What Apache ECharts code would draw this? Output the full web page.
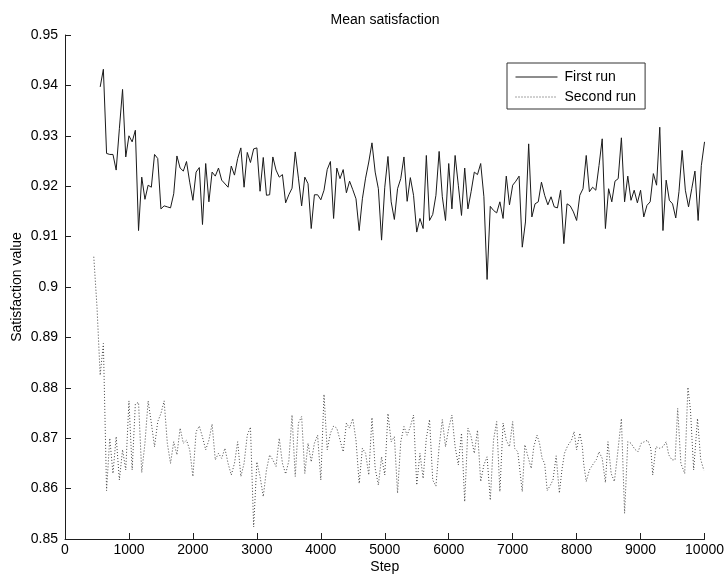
<!DOCTYPE html>
<html>
<head>
<meta charset="utf-8">
<title>Mean satisfaction</title>
<script src="https://cdn.jsdelivr.net/npm/echarts@6/dist/echarts.min.js"></script>
<style>
  html, body { margin: 0; padding: 0; background: #fff; }
  #chart { width: 727px; height: 580px; }
</style>
</head>
<body>
<div id="chart"></div>
<script>
// Mean satisfaction per simulation step, two runs
const firstSteps = [
  550, 600, 650, 700, 750, 800, 850, 900, 950, 1000, 1050, 1100, 1150, 1200, 1250, 1300, 1350, 1400, 1450, 1500,
  1550, 1600, 1650, 1700, 1750, 1800, 1850, 1900, 1950, 2000, 2050, 2100, 2150, 2200, 2250, 2300, 2350, 2400, 2450, 2550,
  2600, 2650, 2700, 2750, 2800, 2850, 2900, 2950, 3000, 3050, 3100, 3150, 3200, 3250, 3300, 3350, 3400, 3450, 3500, 3550,
  3600, 3650, 3700, 3750, 3800, 3850, 3900, 3950, 4000, 4050, 4100, 4150, 4200, 4250, 4300, 4350, 4400, 4450, 4500, 4550,
  4600, 4650, 4700, 4750, 4800, 4850, 4900, 4950, 5000, 5050, 5100, 5150, 5200, 5250, 5300, 5350, 5400, 5450, 5500, 5550,
  5600, 5650, 5700, 5750, 5800, 5850, 5900, 5950, 6000, 6050, 6100, 6150, 6200, 6250, 6300, 6350, 6400, 6450, 6500, 6550,
  6600, 6650, 6700, 6750, 6800, 6850, 6900, 6950, 7000, 7050, 7100, 7150, 7200, 7250, 7300, 7350, 7400, 7450, 7500, 7550,
  7600, 7650, 7700, 7750, 7800, 7850, 7900, 7950, 8000, 8050, 8100, 8150, 8200, 8250, 8300, 8350, 8400, 8450, 8500, 8550,
  8600, 8650, 8700, 8750, 8800, 8850, 8900, 8950, 9000, 9050, 9100, 9150, 9200, 9250, 9300, 9350, 9400, 9450, 9500, 9550,
  9600, 9650, 9700, 9750, 9800, 9850, 9900, 9950, 10000
];
const firstValues = [
  0.9397, 0.9432, 0.9265, 0.9263, 0.9263, 0.9232, 0.9314, 0.9392, 0.9258, 0.9300, 0.9288, 0.9311, 0.9112, 0.9218, 0.9174, 0.9202, 0.9198, 0.9263, 0.9255, 0.9155,
  0.9161, 0.9159, 0.9157, 0.9185, 0.9260, 0.9236, 0.9230, 0.9249, 0.9208, 0.9172, 0.9228, 0.9237, 0.9124, 0.9245, 0.9169, 0.9228, 0.9220, 0.9236, 0.9212, 0.9198,
  0.9240, 0.9222, 0.9255, 0.9276, 0.9198, 0.9267, 0.9247, 0.9274, 0.9276, 0.9190, 0.9257, 0.9182, 0.9183, 0.9258, 0.9232, 0.9218, 0.9223, 0.9167, 0.9183, 0.9196,
  0.9268, 0.9216, 0.9161, 0.9218, 0.9205, 0.9116, 0.9183, 0.9183, 0.9173, 0.9192, 0.9233, 0.9249, 0.9136, 0.9236, 0.9215, 0.9233, 0.9187, 0.9210, 0.9193, 0.9175,
  0.9112, 0.9175, 0.9216, 0.9248, 0.9286, 0.9228, 0.9195, 0.9093, 0.9198, 0.9259, 0.9169, 0.9134, 0.9195, 0.9215, 0.9258, 0.9170, 0.9217, 0.9182, 0.9109, 0.9136,
  0.9116, 0.9261, 0.9132, 0.9144, 0.9182, 0.9269, 0.9179, 0.9132, 0.9245, 0.9155, 0.9261, 0.9202, 0.9142, 0.9236, 0.9155, 0.9189, 0.9228, 0.9223, 0.9245, 0.9179,
  0.9015, 0.9160, 0.9152, 0.9147, 0.9169, 0.9136, 0.9220, 0.9163, 0.9202, 0.9210, 0.9220, 0.9079, 0.9129, 0.9284, 0.9139, 0.9165, 0.9169, 0.9208, 0.9182, 0.9163,
  0.9179, 0.9159, 0.9157, 0.9192, 0.9086, 0.9165, 0.9161, 0.9149, 0.9132, 0.9182, 0.9195, 0.9261, 0.9189, 0.9198, 0.9192, 0.9241, 0.9294, 0.9116, 0.9195, 0.9169,
  0.9210, 0.9215, 0.9296, 0.9169, 0.9220, 0.9172, 0.9192, 0.9167, 0.9192, 0.9139, 0.9162, 0.9169, 0.9225, 0.9202, 0.9317, 0.9112, 0.9212, 0.9172, 0.9165, 0.9137,
  0.9189, 0.9271, 0.9192, 0.9159, 0.9195, 0.9230, 0.9132, 0.9241, 0.9288
];

const secondSteps = [
  450, 500, 550, 600, 650, 700, 750, 800, 850, 900, 950, 1000, 1050, 1100, 1150, 1200, 1250, 1300, 1350, 1400,
  1450, 1500, 1550, 1600, 1650, 1700, 1750, 1800, 1850, 1900, 1950, 2000, 2050, 2100, 2150, 2200, 2250, 2300, 2350, 2400,
  2450, 2500, 2550, 2600, 2650, 2700, 2750, 2800, 2850, 2900, 2950, 3000, 3050, 3100, 3150, 3200, 3250, 3300, 3350, 3400,
  3450, 3500, 3550, 3600, 3650, 3700, 3750, 3800, 3850, 3900, 3950, 4000, 4050, 4100, 4150, 4200, 4250, 4350, 4400, 4450,
  4500, 4550, 4600, 4650, 4700, 4750, 4800, 4850, 4900, 4950, 5000, 5050, 5100, 5150, 5200, 5250, 5300, 5350, 5400, 5450,
  5500, 5550, 5600, 5650, 5700, 5750, 5800, 5850, 5900, 5950, 6000, 6050, 6100, 6150, 6200, 6250, 6300, 6350, 6400, 6450,
  6500, 6550, 6600, 6650, 6700, 6750, 6800, 6850, 6900, 6950, 7000, 7030, 7080, 7150, 7190, 7240, 7290, 7330, 7380, 7420,
  7460, 7500, 7540, 7590, 7630, 7680, 7730, 7770, 7810, 7860, 7920, 7960, 8000, 8050, 8090, 8110, 8150, 8200, 8250, 8310,
  8350, 8400, 8450, 8490, 8540, 8590, 8630, 8700, 8750, 8800, 8850, 8910, 8960, 9010, 9060, 9110, 9160, 9190, 9240, 9300,
  9350, 9400, 9440, 9490, 9540, 9580, 9630, 9690, 9740, 9780, 9830, 9890, 9940, 9990
];
const secondValues = [
  0.9060, 0.8961, 0.8825, 0.8888, 0.8596, 0.8700, 0.8630, 0.8703, 0.8617, 0.8677, 0.8637, 0.8774, 0.8637, 0.8768, 0.8771, 0.8632, 0.8690, 0.8774, 0.8730, 0.8683,
  0.8733, 0.8749, 0.8774, 0.8690, 0.8650, 0.8693, 0.8667, 0.8720, 0.8690, 0.8696, 0.8677, 0.8624, 0.8713, 0.8724, 0.8702, 0.8677, 0.8696, 0.8728, 0.8657, 0.8670,
  0.8660, 0.8680, 0.8650, 0.8627, 0.8650, 0.8693, 0.8624, 0.8650, 0.8706, 0.8722, 0.8524, 0.8653, 0.8624, 0.8584, 0.8637, 0.8667, 0.8657, 0.8644, 0.8700, 0.8650,
  0.8629, 0.8655, 0.8746, 0.8624, 0.8730, 0.8743, 0.8630, 0.8690, 0.8653, 0.8690, 0.8706, 0.8617, 0.8787, 0.8677, 0.8710, 0.8724, 0.8720, 0.8673, 0.8730, 0.8720,
  0.8739, 0.8696, 0.8610, 0.8680, 0.8670, 0.8627, 0.8741, 0.8640, 0.8607, 0.8663, 0.8627, 0.8749, 0.8693, 0.8703, 0.8591, 0.8693, 0.8723, 0.8706, 0.8723, 0.8746,
  0.8607, 0.8670, 0.8620, 0.8700, 0.8737, 0.8617, 0.8605, 0.8683, 0.8737, 0.8683, 0.8720, 0.8746, 0.8683, 0.8647, 0.8710, 0.8574, 0.8720, 0.8703, 0.8670, 0.8716,
  0.8614, 0.8647, 0.8663, 0.8577, 0.8696, 0.8733, 0.8594, 0.8730, 0.8696, 0.8683, 0.8733, 0.8680, 0.8673, 0.8594, 0.8687, 0.8663, 0.8640, 0.8683, 0.8706, 0.8690,
  0.8660, 0.8650, 0.8596, 0.8607, 0.8617, 0.8665, 0.8591, 0.8637, 0.8670, 0.8685, 0.8696, 0.8713, 0.8677, 0.8710, 0.8683, 0.8650, 0.8614, 0.8637, 0.8647, 0.8658,
  0.8673, 0.8660, 0.8612, 0.8693, 0.8630, 0.8614, 0.8657, 0.8739, 0.8551, 0.8693, 0.8690, 0.8678, 0.8673, 0.8690, 0.8693, 0.8696, 0.8680, 0.8627, 0.8683, 0.8680,
  0.8683, 0.8693, 0.8667, 0.8657, 0.8657, 0.8759, 0.8650, 0.8630, 0.8801, 0.8756, 0.8637, 0.8739, 0.8658, 0.8636
];

const seriesNames = ['First run', 'Second run'];
const yTickLabels = ['0.85', '0.86', '0.87', '0.88', '0.89', '0.9', '0.91', '0.92', '0.93', '0.94', '0.95'];

const zip = (xs, ys) => xs.map((x, i) => [x, ys[i]]);
const FONT = '"Liberation Sans", Arial, Helvetica, sans-serif';
const AXIS_COLOR = '#1e1e1e';

const chart = echarts.init(document.getElementById('chart'), null, { renderer: 'canvas' });

chart.setOption({
  animation: false,
  backgroundColor: '#ffffff',
  textStyle: { fontFamily: FONT },
  title: {
    text: 'Mean satisfaction',
    left: 385,
    top: 13,
    padding: 0,
    textAlign: 'center',
    textStyle: { fontFamily: FONT, fontSize: 14, fontWeight: 'normal', color: '#000' }
  },
  legend: {
    orient: 'vertical',
    left: 507,
    top: 63,
    padding: [7, 9, 5, 8],
    itemWidth: 42,
    itemHeight: 14,
    itemGap: 6,
    borderColor: '#333',
    borderWidth: 1,
    borderRadius: 0,
    backgroundColor: '#fff',
    // line-only legend keys: hide the marker drawn on top of the line
    itemStyle: { color: 'rgba(0,0,0,0)', borderWidth: 0 },
    lineStyle: { width: 1 },
    textStyle: { fontFamily: FONT, fontSize: 14, color: '#000', padding: [0, 0, 0, 2] },
    data: seriesNames
  },
  grid: { left: 65, right: 22, top: 35, bottom: 41 },
  xAxis: {
    type: 'value',
    min: 0,
    max: 10000,
    interval: 1000,
    name: 'Step',
    nameLocation: 'middle',
    nameGap: 21,
    nameMoveOverlap: false,
    nameTextStyle: { fontFamily: FONT, fontSize: 14, color: '#000' },
    axisLine: { show: true, lineStyle: { color: AXIS_COLOR, width: 1 } },
    axisTick: { show: true, inside: true, length: 6, lineStyle: { color: AXIS_COLOR } },
    axisLabel: { margin: 4, fontFamily: FONT, fontSize: 14, color: '#000', formatter: (v) => String(v) },
    splitLine: { show: false }
  },
  yAxis: {
    type: 'value',
    min: 0.85,
    max: 0.95,
    interval: 0.01,
    name: 'Satisfaction value',
    nameLocation: 'middle',
    nameGap: 41,
    nameMoveOverlap: false,
    nameTextStyle: { fontFamily: FONT, fontSize: 14, color: '#000' },
    axisLine: { show: true, lineStyle: { color: AXIS_COLOR, width: 1 } },
    axisTick: { show: true, inside: true, length: 6, lineStyle: { color: AXIS_COLOR } },
    axisLabel: {
      margin: 7,
      fontFamily: FONT,
      fontSize: 14,
      color: '#000',
      formatter: (v) => yTickLabels[Math.round((v - 0.85) * 100)] ?? String(v)
    },
    splitLine: { show: false }
  },
  series: [
    {
      name: seriesNames[0],
      type: 'line',
      data: zip(firstSteps, firstValues),
      symbol: 'none',
      lineStyle: { color: '#1a1a1a', width: 1 },
      itemStyle: { color: '#1a1a1a' }
    },
    {
      name: seriesNames[1],
      type: 'line',
      data: zip(secondSteps, secondValues),
      symbol: 'none',
      lineStyle: { color: '#444', width: 1, type: [1, 2] },
      itemStyle: { color: '#444' }
    }
  ]
});
</script>
</body>
</html>
